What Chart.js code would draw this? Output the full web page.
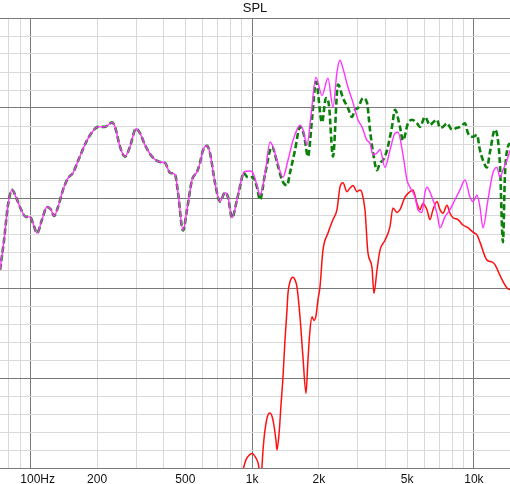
<!DOCTYPE html>
<html>
<head>
<meta charset="utf-8">
<title>SPL</title>
<script src="https://cdn.jsdelivr.net/npm/chart.js@4.4.1/dist/chart.umd.min.js"></script>
<style>
  html, body { margin: 0; padding: 0; background: #fff; }
  #wrap { width: 510px; height: 484px; }
</style>
</head>
<body>
<div id="wrap"><canvas id="splChart" width="510" height="484"></canvas></div>
<script>
// shared part of the magenta and green traces (they overlap below ~900 Hz)
const freqLow = [73.0, 76.1, 79.3, 82.7, 86.2, 89.8, 95.6, 99.7, 102.8, 107.2, 112.9, 118.9, 124.0, 127.9, 133.3, 140.4, 147.9, 155.8, 165.8, 180.1, 189.7, 201.9, 217.1, 224.0, 233.5, 240.9, 253.7, 267.2, 281.4, 299.5, 312.2, 328.9, 353.8, 384.3, 404.8, 426.5, 449.2, 463.4, 488.1, 508.8, 535.8, 564.3, 582.1, 600.5, 626.0, 645.8, 680.2, 716.5, 754.6, 778.6, 811.6, 854.8, 900.4];
const splLow = [72.0, 75.3, 79.2, 80.9, 80.1, 79.0, 77.9, 77.9, 77.2, 76.1, 77.6, 79.0, 78.7, 78.0, 79.0, 80.9, 82.2, 82.8, 84.4, 86.4, 87.3, 87.9, 87.9, 88.1, 88.4, 87.9, 85.7, 84.6, 85.7, 87.7, 87.2, 85.9, 84.6, 84.0, 83.9, 82.8, 82.6, 80.6, 76.4, 78.7, 82.0, 82.9, 83.9, 85.3, 85.8, 85.0, 81.7, 79.6, 80.6, 80.1, 77.8, 79.8, 82.3];

const freqMagenta = [919, 978, 1009, 1052, 1085, 1143, 1204, 1243, 1295, 1378, 1451, 1529, 1594, 1644, 1696, 1768, 1843, 1941, 2066, 2199, 2316, 2414, 2490, 2569, 2706, 2851, 3002, 3129, 3296, 3400, 3508, 3657, 3773, 3973, 4184, 4409, 4548, 4790, 4993, 5150, 5425, 5596, 5833, 6019, 6145, 6471, 6817, 7033, 7405, 7802, 8215, 8656, 9117, 9601, 9906, 10325, 10652, 10990, 11574, 12190, 12709, 13110, 13524, 14100, 14547];
const splMagenta = [82.9, 83.0, 82.8, 81.4, 80.3, 82.6, 86.2, 85.7, 84.2, 82.3, 84.2, 86.4, 87.6, 88.1, 87.6, 85.9, 89.2, 93.4, 91.4, 93.3, 90.1, 94.0, 95.3, 94.4, 92.3, 90.6, 88.7, 87.9, 86.4, 86.1, 84.8, 85.0, 85.4, 83.4, 85.3, 87.2, 87.3, 84.8, 82.0, 81.2, 80.1, 78.7, 78.4, 80.6, 81.2, 80.1, 78.3, 76.7, 77.9, 78.7, 79.8, 80.9, 82.0, 80.1, 79.6, 80.3, 79.0, 76.7, 79.8, 82.8, 83.4, 82.3, 83.1, 84.2, 85.3];

const freqGreen = [910, 958, 1009, 1052, 1085, 1143, 1229, 1295, 1364, 1437, 1482, 1561, 1644, 1714, 1786, 1862, 1941, 2066, 2153, 2221, 2316, 2439, 2569, 2706, 2821, 2910, 3002, 3162, 3296, 3400, 3508, 3657, 3773, 3892, 4057, 4272, 4409, 4643, 4790, 5045, 5258, 5539, 5714, 6019, 6339, 6539, 6817, 7033, 7254, 7561, 7965, 8389, 8656, 9117, 9404, 9906, 10325, 10652, 10990, 11455, 11817, 12445, 12844, 13110, 13524, 13807, 14246, 14547];
const splGreen = [82.8, 82.3, 82.3, 81.2, 79.8, 82.6, 85.7, 84.0, 82.0, 81.4, 82.8, 85.3, 87.9, 87.0, 84.6, 88.7, 92.9, 88.4, 91.1, 90.3, 84.6, 92.6, 91.1, 90.0, 89.0, 89.8, 90.0, 91.1, 90.6, 87.6, 85.1, 83.1, 83.9, 84.2, 85.3, 87.9, 89.8, 87.9, 86.4, 88.3, 88.7, 88.3, 87.9, 89.0, 88.1, 88.4, 88.7, 87.8, 87.9, 88.3, 87.6, 87.8, 87.9, 88.3, 87.2, 86.8, 87.0, 85.3, 84.2, 83.4, 85.1, 87.6, 86.4, 83.7, 75.1, 82.6, 85.7, 86.1];

const freqRed = [910, 938, 968, 999, 1030, 1063, 1097, 1120, 1143, 1179, 1204, 1243, 1281, 1295, 1322, 1350, 1378, 1407, 1437, 1451, 1482, 1529, 1561, 1594, 1644, 1696, 1750, 1786, 1824, 1862, 1901, 1941, 1982, 2023, 2087, 2199, 2316, 2414, 2490, 2569, 2678, 2763, 2851, 2971, 3065, 3129, 3228, 3330, 3471, 3544, 3657, 3773, 3973, 4184, 4316, 4499, 4643, 4890, 5150, 5313, 5539, 5714, 5893, 6145, 6339, 6539, 6817, 7033, 7254, 7561, 7802, 8049, 8478, 8929, 9404, 9906, 10325, 10652, 11455, 12064, 12445, 13110, 14100, 14547];
const splRed = [49.8, 50.9, 51.4, 51.6, 51.3, 50.6, 48.9, 52.0, 54.2, 55.9, 56.1, 55.3, 53.1, 52.0, 53.7, 57.0, 60.1, 64.2, 67.6, 69.4, 70.7, 71.2, 70.9, 70.1, 66.8, 62.3, 58.3, 62.0, 65.3, 66.8, 66.4, 66.9, 68.7, 70.1, 74.2, 76.1, 77.6, 78.7, 81.2, 81.7, 80.7, 81.1, 81.4, 80.7, 80.9, 80.6, 78.7, 73.9, 72.3, 69.4, 72.0, 74.2, 75.3, 76.8, 78.9, 78.4, 78.7, 80.1, 80.7, 80.9, 79.4, 78.7, 79.4, 78.7, 77.6, 78.7, 79.6, 78.7, 78.3, 79.2, 78.3, 77.8, 77.6, 77.0, 76.7, 76.2, 75.9, 75.1, 73.1, 72.9, 72.6, 71.4, 70.0, 69.8];

// axes
const freqMin = 73;
const freqMax = 14550;
const freqGridLines = [80, 90, 100, 200, 300, 400, 500, 600, 700, 800, 900, 1000, 2000, 3000, 4000, 5000, 6000, 7000, 8000, 9000, 10000];
const freqMajor = [100, 1000, 10000];
const labelFreqs = [100, 200, 500, 1000, 2000, 5000, 10000];
const labelTexts = ['100Hz', '200', '500', '1k', '2k', '5k', '10k'];
const splMin = 50;
const splMax = 100;
const splStep = 2;
const splMajorStep = 10;

const MAJOR_GRID = '#7a7a7a';
const MINOR_GRID = '#d9d9d9';
const FONT = '"Liberation Sans", Arial, sans-serif';

function toPoints(freqs, levels) {
  return freqs.map((f, i) => ({ x: f, y: levels[i] }));
}

// frequency labels: the number part sits centred on its grid line, "Hz" trails it
const freqLabelsPlugin = {
  id: 'freqLabels',
  afterDraw(chart) {
    const xs = chart.scales.x;
    const ctx = chart.ctx;
    ctx.save();
    ctx.font = '12px ' + FONT;
    ctx.fillStyle = '#111';
    ctx.textAlign = 'left';
    ctx.textBaseline = 'alphabetic';
    labelFreqs.forEach((f, i) => {
      const txt = labelTexts[i];
      const num = txt.replace('Hz', '');
      const px = xs.getPixelForValue(f);
      ctx.fillText(txt, px - ctx.measureText(num).width / 2, 483);
    });
    ctx.restore();
  },
};

const lineBase = { pointRadius: 0, pointHoverRadius: 0, fill: false, cubicInterpolationMode: 'monotone', clip: 0 };

new Chart(document.getElementById('splChart'), {
  type: 'line',
  data: {
    datasets: [
      Object.assign({}, lineBase, {
        label: 'magenta',
        data: toPoints(freqLow.concat(freqMagenta), splLow.concat(splMagenta)),
        borderColor: '#ff33ff',
        borderWidth: 1.4,
        order: 1,
      }),
      Object.assign({}, lineBase, {
        label: 'green',
        data: toPoints(freqLow.concat(freqGreen), splLow.concat(splGreen)),
        borderColor: '#0b800b',
        borderWidth: 2.6,
        borderDash: [6, 3],
        order: 2,
      }),
      Object.assign({}, lineBase, {
        label: 'red',
        data: toPoints(freqRed, splRed),
        borderColor: '#ff1010',
        borderWidth: 1.5,
        order: 3,
      }),
    ],
  },
  options: {
    responsive: false,
    animation: false,
    devicePixelRatio: 1,
    layout: { padding: { left: 0, right: 0, top: 0, bottom: 16 } },
    scales: {
      x: {
        type: 'logarithmic',
        min: freqMin,
        max: freqMax,
        afterBuildTicks: (scale) => {
          scale.ticks = freqGridLines.map((v) => ({ value: v }));
        },
        ticks: { display: false },
        border: { display: false },
        grid: {
          drawTicks: false,
          lineWidth: 1,
          color: (c) => (c.tick && freqMajor.includes(c.tick.value) ? MAJOR_GRID : MINOR_GRID),
        },
      },
      y: {
        type: 'linear',
        min: splMin,
        max: splMax,
        afterBuildTicks: (scale) => {
          const t = [];
          for (let v = splMin; v <= splMax; v += splStep) t.push({ value: v });
          scale.ticks = t;
        },
        ticks: { display: false },
        border: { display: false },
        grid: {
          drawTicks: false,
          lineWidth: 1,
          color: (c) => (c.tick && c.tick.value % splMajorStep === 0 ? MAJOR_GRID : MINOR_GRID),
        },
      },
    },
    plugins: {
      legend: { display: false },
      tooltip: { enabled: false },
      title: {
        display: true,
        text: 'SPL',
        color: '#111',
        font: { family: FONT, size: 13, weight: 'normal', lineHeight: 1 },
        padding: { top: 2, bottom: 3 },
      },
    },
  },
  plugins: [freqLabelsPlugin],
});
</script>
</body>
</html>
